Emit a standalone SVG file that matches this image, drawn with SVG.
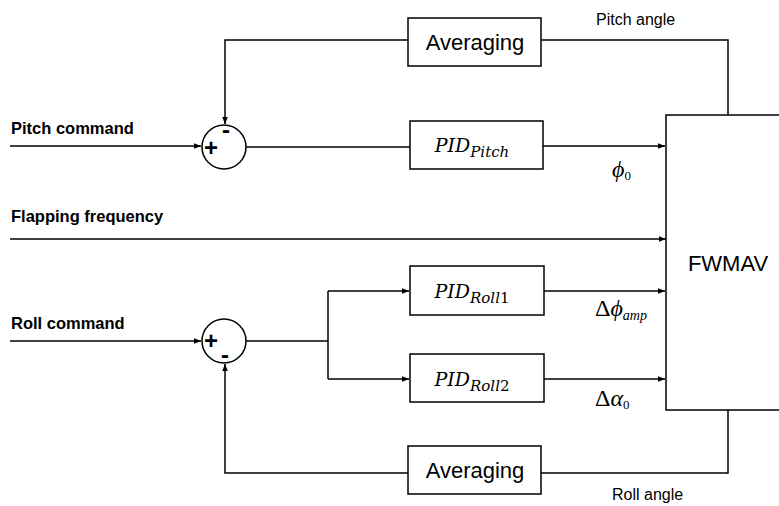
<svg xmlns="http://www.w3.org/2000/svg" width="779" height="506" viewBox="0 0 779 506">
<style>
.box{fill:#fff;stroke:#000;stroke-width:1.5}
.ln{fill:none;stroke:#000;stroke-width:1.5}
.lbl{font-family:"Liberation Sans",Arial,sans-serif;font-size:16.5px;font-weight:bold}
.sm{font-family:"Liberation Sans",Arial,sans-serif;font-size:16px}
.avg{font-family:"Liberation Sans",Arial,sans-serif;font-size:22px}
.pid{font-family:"DejaVu Serif","Liberation Serif",serif;font-style:italic;font-size:19px}
.math{font-family:"Liberation Serif","Times New Roman",serif;font-size:24px}
.sign{font-family:"Liberation Sans",Arial,sans-serif;font-size:24px;font-weight:bold}
</style>
<defs>
<marker id="ah" viewBox="0 0 10 10" refX="10" refY="5" markerWidth="7" markerHeight="7" orient="auto" markerUnits="userSpaceOnUse">
<path d="M0,1 L10,5 L0,9 z" fill="#000"/>
</marker>
</defs>
<rect width="779" height="506" fill="#fff"/>
<g id="connectors">
<path class="ln" d="M10,146 H201" marker-end="url(#ah)"/>
<path class="ln" d="M246,147 H410"/>
<path class="ln" d="M543,146 H665" marker-end="url(#ah)"/>
<path class="ln" d="M10,239 H666" marker-end="url(#ah)"/>
<path class="ln" d="M10,341 H201" marker-end="url(#ah)"/>
<path class="ln" d="M246,341 H328"/>
<path class="ln" d="M328,291 V379"/>
<path class="ln" d="M328,291 H409" marker-end="url(#ah)"/>
<path class="ln" d="M328,379 H409" marker-end="url(#ah)"/>
<path class="ln" d="M544,291 H665" marker-end="url(#ah)"/>
<path class="ln" d="M544,379 H665" marker-end="url(#ah)"/>
<path class="ln" d="M728,115 V40 H541"/>
<path class="ln" d="M408,40 H225 V124" marker-end="url(#ah)"/>
<path class="ln" d="M728,410 V473 H541"/>
<path class="ln" d="M408,473 H225 V364" marker-end="url(#ah)"/>
</g>
<g id="sum1">
<circle class="box" cx="224" cy="147" r="22"/>
<text class="sign" x="226" y="138" text-anchor="middle">-</text>
<text class="sign" x="211" y="156" text-anchor="middle">+</text>
</g>
<g id="sum2">
<circle class="box" cx="224" cy="341" r="22"/>
<text class="sign" x="211" y="349" text-anchor="middle">+</text>
<text class="sign" x="225" y="363" text-anchor="middle">-</text>
</g>
<g id="avg1">
<rect class="box" x="408" y="18" width="133" height="48"/>
<text class="avg" x="475" y="50" text-anchor="middle">Averaging</text>
</g>
<g id="pidpitch">
<rect class="box" x="410" y="121" width="133" height="48"/>
<text class="pid" x="472" y="152" text-anchor="middle">PID<tspan font-size="15" dy="5">Pitch</tspan></text>
</g>
<g id="pidroll1">
<rect class="box" x="410" y="266" width="134" height="49"/>
<text class="pid" x="472" y="298" text-anchor="middle">PID<tspan font-size="15" dy="5">Roll<tspan font-style="normal">1</tspan></tspan></text>
</g>
<g id="pidroll2">
<rect class="box" x="410" y="354" width="134" height="48"/>
<text class="pid" x="472" y="386" text-anchor="middle">PID<tspan font-size="15" dy="5">Roll<tspan font-style="normal">2</tspan></tspan></text>
</g>
<g id="avg2">
<rect class="box" x="408" y="446" width="133" height="48"/>
<text class="avg" x="475" y="478" text-anchor="middle">Averaging</text>
</g>
<g id="fwmav">
<rect class="box" x="666" y="115" width="120" height="295"/>
<text class="avg" x="728" y="271" text-anchor="middle">FWMAV</text>
</g>
<g id="labels">
<text class="lbl" x="11" y="134">Pitch command</text>
<text class="lbl" x="11" y="222">Flapping frequency</text>
<text class="lbl" x="11" y="329">Roll command</text>
<text class="sm" x="596" y="25">Pitch angle</text>
<text class="sm" x="612" y="500">Roll angle</text>
<text class="math" x="612" y="177" font-style="italic">ϕ<tspan font-size="13" font-style="normal" dy="3">0</tspan></text>
<text class="math" x="595" y="316">Δ<tspan font-style="italic">ϕ</tspan><tspan font-size="14" font-style="italic" dy="4">amp</tspan></text>
<text class="math" x="595" y="406">Δ<tspan font-style="italic">α</tspan><tspan font-size="13" dy="3">0</tspan></text>
</g>
</svg>
